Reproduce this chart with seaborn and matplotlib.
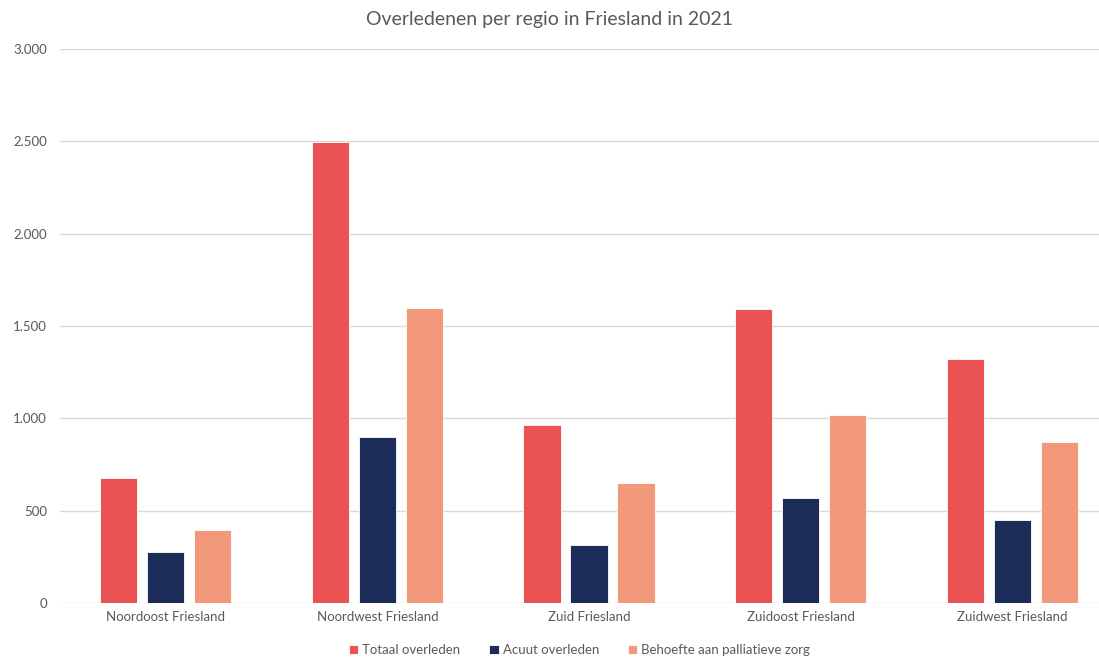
import pandas as pd
import matplotlib.pyplot as plt
import seaborn as sns
from matplotlib.ticker import FuncFormatter

# Data
regions = ["Noordoost Friesland", "Noordwest Friesland", "Zuid Friesland",
           "Zuidoost Friesland", "Zuidwest Friesland"]
totaal = [675, 2495, 962, 1590, 1320]
acuut = [275, 899, 312, 571, 451]
behoefte = [395, 1595, 650, 1016, 870]
series = ["Totaal overleden", "Acuut overleden", "Behoefte aan palliatieve zorg"]
colors = ["#EB5254", "#1C2C59", "#F1997A"]

df = pd.DataFrame({"regio": regions, series[0]: totaal, series[1]: acuut, series[2]: behoefte})
df_long = df.melt(id_vars="regio", var_name="reeks", value_name="aantal")

sns.set_theme(style="white")
plt.rcParams["font.family"] = ["Lato", "DejaVu Sans"]
text_color = "#595959"

fig = plt.figure(figsize=(10.99, 6.59), dpi=100)
ax = fig.add_axes([60 / 1099, 56 / 659, 1 - 60 / 1099, 554 / 659])

sns.barplot(data=df_long, x="regio", y="aantal", hue="reeks", hue_order=series,
            palette=colors, saturation=1, width=0.667, gap=0.21,
            edgecolor="white", linewidth=0.6, ax=ax, zorder=3)

ax.set_ylim(0, 3000)
ax.set_xlim(-0.5, 4.41)
ax.set_yticks(range(0, 3001, 500))
ax.yaxis.set_major_formatter(FuncFormatter(lambda v, p: f"{int(v):,}".replace(",", ".")))
ax.grid(axis="y", color="#D9D9D9", linewidth=1, zorder=0)
for s in ax.spines.values():
    s.set_visible(False)
ax.tick_params(axis="both", length=0, labelsize=9.5, colors=text_color)
ax.tick_params(axis="y", pad=9.5)
ax.tick_params(axis="x", pad=6)
ax.set_xlabel("")
ax.set_ylabel("")

fig.text(0.5, 1 - 19 / 659, "Overledenen per regio in Friesland in 2021", ha="center", va="center",
         fontsize=14, color=text_color)

ax.legend(loc="center", bbox_to_anchor=(0.5, -0.085), ncol=3, frameon=False,
          fontsize=9.5, labelcolor=text_color, handlelength=0.7, handleheight=0.7,
          handletextpad=0.3, columnspacing=2.2)

fig.savefig("out.png", dpi=100)
